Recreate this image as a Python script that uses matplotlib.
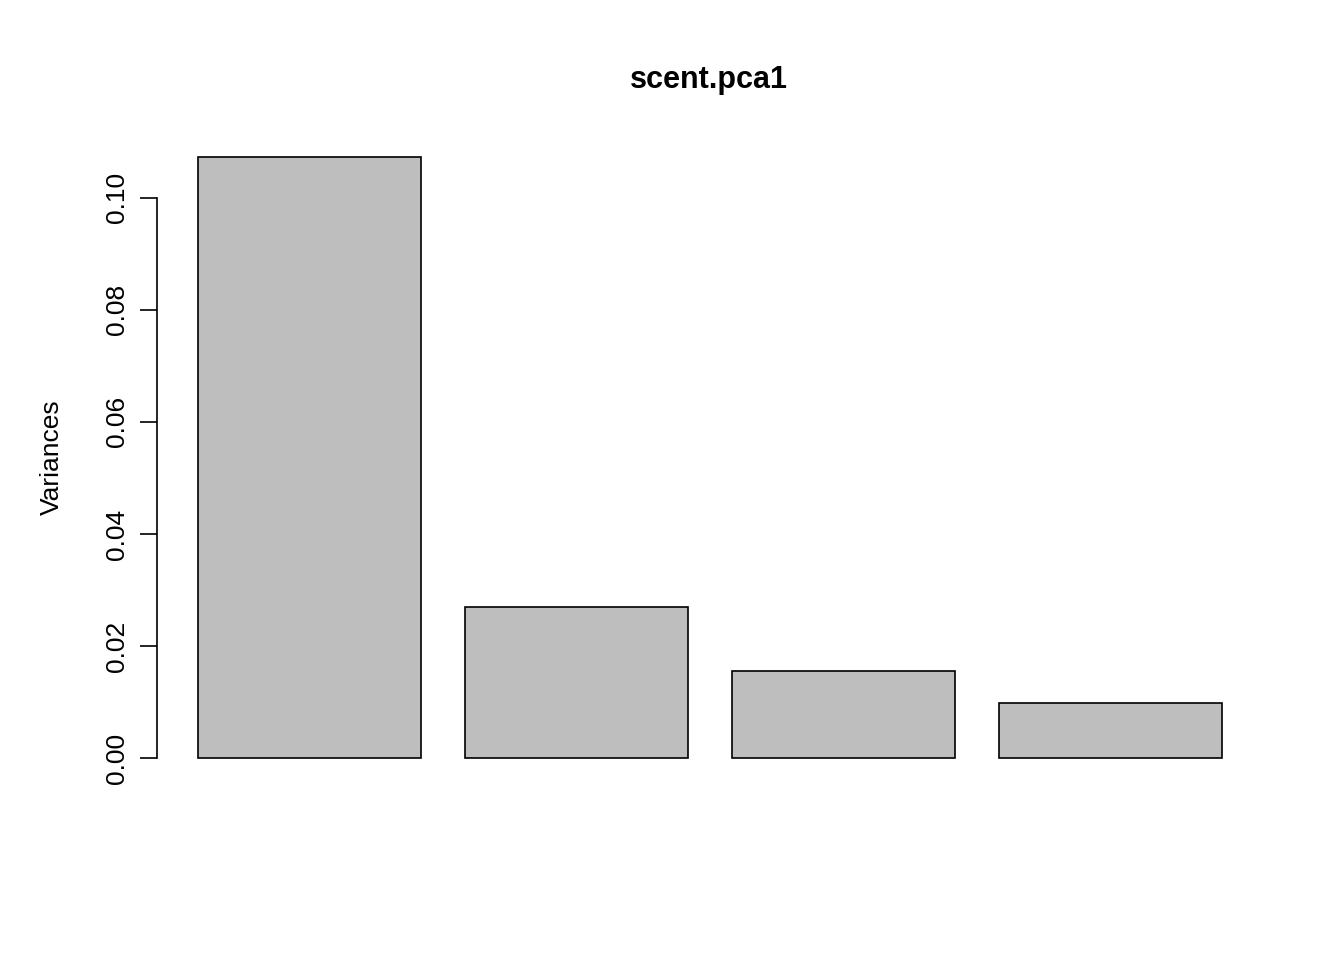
import matplotlib
matplotlib.use('Agg')
import matplotlib.pyplot as plt
import numpy as np

plt.rcParams['font.family'] = ['Liberation Sans', 'DejaVu Sans']

variances = [0.1073, 0.02696, 0.01554, 0.00982]
yticks = [0.00, 0.02, 0.04, 0.06, 0.08, 0.10]

fig = plt.figure(figsize=(13.44, 9.6), dpi=100)
ax = fig.add_axes([157 / 1344, 1 - 782 / 960, (1263 - 157) / 1344, (782 - 133) / 960])

x = 0.7 + 1.2 * np.arange(len(variances))
ax.bar(x, variances, width=1.0, color='#bebebe', edgecolor='black', linewidth=1.2)

ext = 0.04 * 4.6
ax.set_xlim(0.2 - ext, 4.8 + ext)
ax.set_ylim(-0.04 * max(variances), max(variances) * 1.04)

for s in ['top', 'right', 'bottom']:
    ax.spines[s].set_visible(False)
ax.spines['left'].set_bounds(0, 0.10)
ax.spines['left'].set_linewidth(1.2)
ax.set_xticks([])
ax.set_yticks(yticks)
ax.set_yticklabels(['%.2f' % t for t in yticks], rotation=90, va='center', fontsize=19)
ax.tick_params(axis='y', length=12, width=1.2, pad=8)
ax.set_ylabel('Variances', fontsize=19, labelpad=30)
fig.text(709 / 1344, 1 - 80 / 960, 'scent.pca1', ha='center', va='center',
         fontsize=22, fontweight='bold')

fig.savefig('out.png', dpi=100)
